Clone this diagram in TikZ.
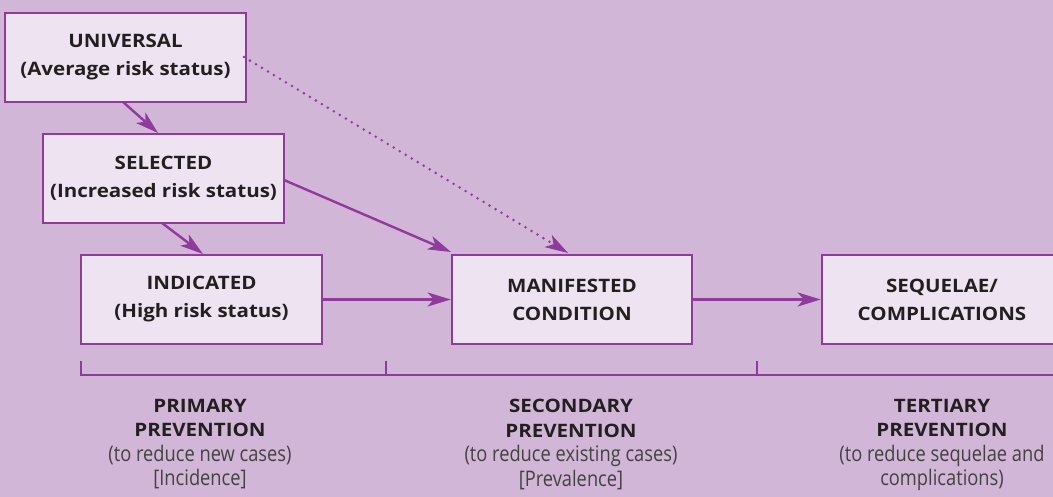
\documentclass[tikz,border=0pt]{standalone}
\usepackage{fontspec}
\setmainfont{Open Sans}
\newfontfamily\boxfont[FakeStretch=1.11]{Open Sans}
\newfontfamily\condfont[FakeStretch=0.85]{Open Sans}
\usetikzlibrary{arrows.meta}
\definecolor{bgc}{HTML}{D2B6D7}
\definecolor{boxfill}{HTML}{EDE3F1}
\definecolor{purp}{HTML}{903A9C}
\definecolor{txt}{HTML}{231F20}
\tikzset{
  stage/.style={draw=purp, line width=2.7pt, fill=boxfill, text=txt, align=center,
    font=\boxfont\fontsize{18.5}{28}\selectfont\bfseries, inner sep=0pt},
  flow/.style={draw=purp, line width=2.4pt, -{Stealth[length=23pt,width=14pt,inset=6pt]}},
  dotflow/.style={draw=purp, line width=2.8pt, line cap=round, dash pattern=on 0pt off 7pt,
    -{Stealth[length=23pt,width=14pt,inset=6pt]}},
  bracket/.style={draw=purp, line width=2.5pt},
  plabel/.style={align=center, text=txt, inner sep=0pt, anchor=north,
    font=\fontsize{18}{24.5}\selectfont},
}
\newcommand{\bfl}[1]{{\boxfont\fontsize{18.5}{24.5}\selectfont\bfseries #1}}
\newcommand{\lfl}[1]{{\condfont\fontsize{21.5}{24.5}\selectfont\color{txt!85} #1}}
\begin{document}
\begin{tikzpicture}[x=1pt,y=-1pt]
\useasboundingbox (0,0) rectangle (1053,497);
\clip (0,0) rectangle (1053,497);
\fill[bgc] (0,0) rectangle (1053,497);
\node[stage, minimum width=241pt, minimum height=89pt] (uni) at (125.5,57.5) {UNIVERSAL\\(Average risk status)};
\node[stage, minimum width=241pt, minimum height=89pt] (sel) at (163.5,178.5) {SELECTED\\(Increased risk status)};
\node[stage, minimum width=241pt, minimum height=89pt] (ind) at (201.5,299.5) {INDICATED\\(High risk status)};
\node[stage, minimum width=240pt, minimum height=89pt] (man) at (572,299.5) {MANIFESTED\\CONDITION};
\node[stage, minimum width=240pt, minimum height=89pt] (seq) at (942,299.5) {SEQUELAE/\\COMPLICATIONS};
\coordinate (u1) at (123,102);
\coordinate (s1) at (158,133);
\coordinate (s2) at (162,223);
\coordinate (i1) at (203,254);
\coordinate (s3) at (284,180);
\coordinate (m1) at (451,252);
\coordinate (u2) at (244,57);
\coordinate (m2) at (568,253);
\draw[flow] (u1) -- (s1);
\draw[flow] (s2) -- (i1);
\draw[flow] (s3) -- (m1);
\draw[dotflow] (u2) -- (m2);
\draw[flow] (ind.east) -- (man.west);
\draw[flow] (man.east) -- (seq.west);
\coordinate (b0) at (81,361);
\coordinate (b0b) at (81,375);
\coordinate (b1) at (386,361);
\coordinate (b1b) at (386,375);
\coordinate (b2) at (757,361);
\coordinate (b2b) at (757,375);
\coordinate (b3) at (1060,375);
\draw[bracket] (b0) -- (b0b) -- (b3);
\draw[bracket] (b1) -- (b1b);
\draw[bracket] (b2) -- (b2b);
\node[plabel] (prim) at (200,399) {\bfl{PRIMARY}\\\bfl{PREVENTION}\\\lfl{(to reduce new cases)}\\\lfl{[Incidence]}};
\node[plabel] (sec) at (571,399) {\bfl{SECONDARY}\\\bfl{PREVENTION}\\\lfl{(to reduce existing cases)}\\\lfl{[Prevalence]}};
\node[plabel] (ter) at (942,399) {\bfl{TERTIARY}\\\bfl{PREVENTION}\\\lfl{(to reduce sequelae and}\\\lfl{complications)}};
\end{tikzpicture}
\end{document}
